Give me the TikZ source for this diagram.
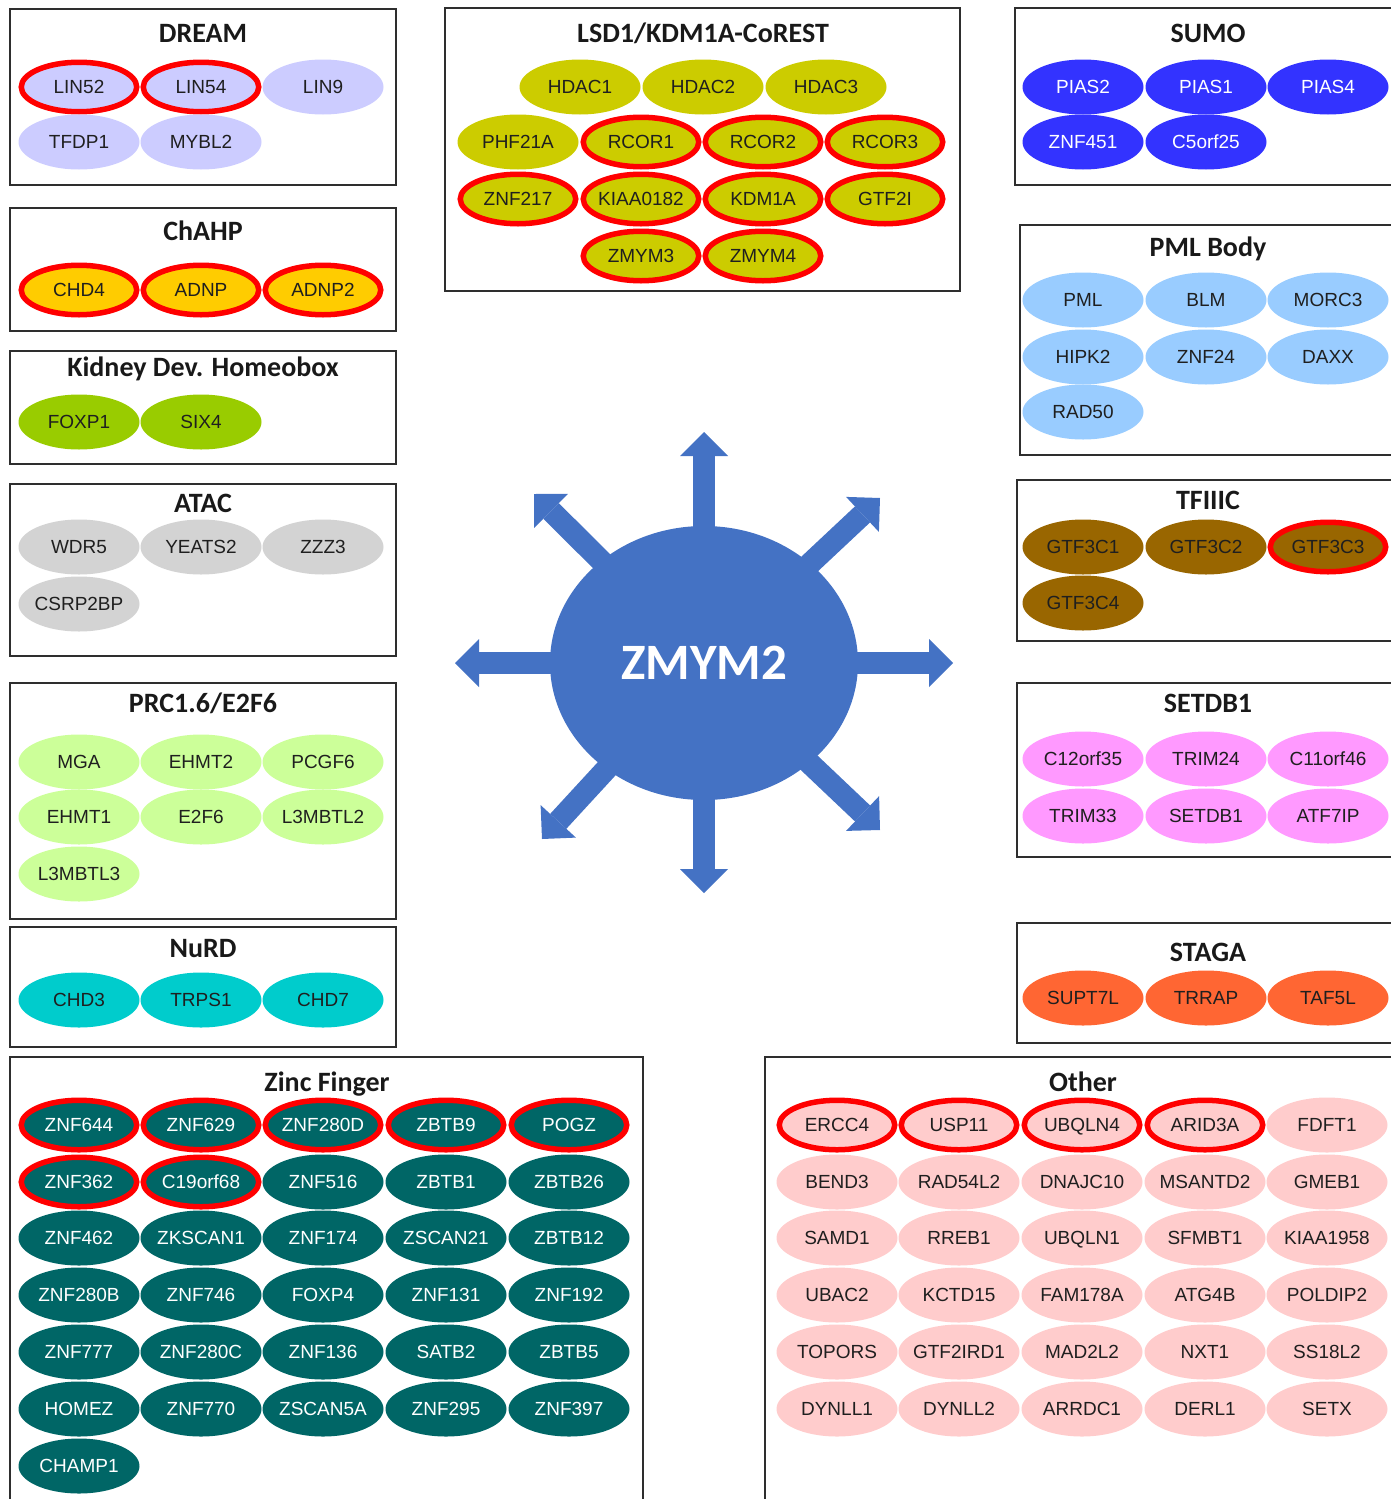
\documentclass[tikz,border=0pt]{standalone}
\usepackage{fontspec}
\setmainfont{Liberation Sans}
\newfontfamily\calib{Carlito}
\usetikzlibrary{shapes.geometric,arrows.meta}

\definecolor{hubc}{HTML}{4472C4}
\definecolor{hitred}{HTML}{FF0000}
\definecolor{dreamc}{HTML}{CCCCFF}
\definecolor{chahpc}{HTML}{FFCC00}
\definecolor{kidneyc}{HTML}{99CC00}
\definecolor{atacc}{HTML}{D3D3D3}
\definecolor{prcc}{HTML}{CCFF99}
\definecolor{nurdc}{HTML}{00CCCC}
\definecolor{zincc}{HTML}{006666}
\definecolor{lsdc}{HTML}{CCCC00}
\definecolor{sumoc}{HTML}{3333FF}
\definecolor{pmlc}{HTML}{99CCFF}
\definecolor{tfiiicc}{HTML}{996600}
\definecolor{setdbc}{HTML}{FF99FF}
\definecolor{stagac}{HTML}{FF6633}
\definecolor{otherc}{HTML}{FFCCCC}

\newcommand\genefont{\fontsize{19}{19}\selectfont}
\newcommand\grptitlefont{\calib\bfseries\fontsize{28}{28}\selectfont}
\newcommand\hubfont{\calib\bfseries\fontsize{51}{51}\selectfont}

% one protein: \G[extra]{style}{name}{x}{y}
\newcommand\G[5][]{\node[#2,#1] (#3) at (#4,#5) {\makebox[0pt]{#3}};}
% one complex frame: \grp{x1}{y1}{x2}{y2}
\newcommand\grp[4]{\draw[groupbox] (#1,#2) rectangle (#3,#4);}

\begin{document}
\begin{tikzpicture}[x=1pt,y=-1pt,
  gene/.style={ellipse, minimum width=121pt, minimum height=55pt, inner sep=0pt,
    text height=13.6pt, text depth=0pt, font=\genefont, text=black!88},
  hit/.style={draw=hitred, line width=5.5pt, minimum width=115.5pt, minimum height=49.5pt},
  dream/.style={gene, fill=dreamc},
  chahp/.style={gene, fill=chahpc},
  kidney/.style={gene, fill=kidneyc},
  atac/.style={gene, fill=atacc},
  prc/.style={gene, fill=prcc},
  nurd/.style={gene, fill=nurdc},
  zinc/.style={gene, fill=zincc, text=white},
  lsd/.style={gene, fill=lsdc},
  sumo/.style={gene, fill=sumoc, text=white},
  pml/.style={gene, fill=pmlc},
  tfiiic/.style={gene, fill=tfiiicc},
  setdb/.style={gene, fill=setdbc},
  staga/.style={gene, fill=stagac},
  other/.style={gene, fill=otherc},
  groupbox/.style={draw=black!82, line width=2.6pt},
  grptitle/.style={inner sep=0pt, text height=18pt, text depth=0pt, font=\grptitlefont, text=black!90},
  hub/.style={ellipse, fill=hubc, minimum width=308pt, minimum height=274pt, inner sep=0pt,
    text height=32.8pt, text depth=0pt, font=\hubfont, text=white},
  spoke/.style={draw=hubc, line width=22pt,
    -{Triangle[length=24pt,width=48pt,line width=0pt]}},
]
\useasboundingbox (0,0) rectangle (1391,1499);
\clip (0,0) rectangle (1391,1499);

% ---------------- central hub with eight spokes ----------------
\coordinate (hubcentre) at (704,663);
\coordinate (aN)  at (704,432);
\coordinate (aS)  at (704,893);
\coordinate (aW)  at (455,663);
\coordinate (aE)  at (953,663);
\coordinate (aNW) at (534,494);
\coordinate (aNE) at (880,498);
\coordinate (aSW) at (542,839);
\coordinate (aSE) at (880,830);
\foreach \t in {aN,aS,aW,aE,aNW,aNE,aSW,aSE}
  \draw[spoke] (hubcentre) -- (\t);
\node[hub] (zmym2) at (hubcentre) {\makebox[0pt]{ZMYM2}};

% ---------------- left column ----------------
\grp{10}{9}{396}{185}
\node[grptitle] (t-dream) at (203,33) {DREAM};
\G[hit]{dream}{LIN52}{79}{87}
\G[hit]{dream}{LIN54}{201}{87}
\G{dream}{LIN9}{323}{87}
\G{dream}{TFDP1}{79}{142}
\G{dream}{MYBL2}{201}{142}

\grp{10}{208}{396}{331}
\node[grptitle] (t-chahp) at (203,231) {ChAHP};
\G[hit]{chahp}{CHD4}{79}{290}
\G[hit]{chahp}{ADNP}{201}{290}
\G[hit]{chahp}{ADNP2}{323}{290}

\grp{10}{351}{396}{464}
\node[grptitle] (t-kidney) at (203,367) {Kidney Dev. Homeobox};
\G{kidney}{FOXP1}{79}{422}
\G{kidney}{SIX4}{201}{422}

\grp{10}{484}{396}{656}
\node[grptitle] (t-atac) at (203,503) {ATAC};
\G{atac}{WDR5}{79}{547}
\G{atac}{YEATS2}{201}{547}
\G{atac}{ZZZ3}{323}{547}
\G{atac}{CSRP2BP}{79}{604}

\grp{10}{683}{396}{919}
\node[grptitle] (t-prc) at (203,703) {PRC1.6/E2F6};
\G{prc}{MGA}{79}{762}
\G{prc}{EHMT2}{201}{762}
\G{prc}{PCGF6}{323}{762}
\G{prc}{EHMT1}{79}{817}
\G{prc}{E2F6}{201}{817}
\G{prc}{L3MBTL2}{323}{817}
\G{prc}{L3MBTL3}{79}{874}

\grp{10}{927}{396}{1047}
\node[grptitle] (t-nurd) at (203,948) {NuRD};
\G{nurd}{CHD3}{79}{1000}
\G{nurd}{TRPS1}{201}{1000}
\G{nurd}{CHD7}{323}{1000}

% ---------------- zinc finger proteins ----------------
\grp{10}{1057}{643}{1520}
\node[grptitle] (t-zinc) at (327,1082) {Zinc Finger};
\G[hit]{zinc}{ZNF644}{79}{1125}
\G[hit]{zinc}{ZNF629}{201}{1125}
\G[hit]{zinc}{ZNF280D}{323}{1125}
\G[hit]{zinc}{ZBTB9}{446}{1125}
\G[hit]{zinc}{POGZ}{569}{1125}
\G[hit]{zinc}{ZNF362}{79}{1182}
\G[hit]{zinc}{C19orf68}{201}{1182}
\G{zinc}{ZNF516}{323}{1182}
\G{zinc}{ZBTB1}{446}{1182}
\G{zinc}{ZBTB26}{569}{1182}
\G{zinc}{ZNF462}{79}{1238}
\G{zinc}{ZKSCAN1}{201}{1238}
\G{zinc}{ZNF174}{323}{1238}
\G{zinc}{ZSCAN21}{446}{1238}
\G{zinc}{ZBTB12}{569}{1238}
\G{zinc}{ZNF280B}{79}{1295}
\G{zinc}{ZNF746}{201}{1295}
\G{zinc}{FOXP4}{323}{1295}
\G{zinc}{ZNF131}{446}{1295}
\G{zinc}{ZNF192}{569}{1295}
\G{zinc}{ZNF777}{79}{1352}
\G{zinc}{ZNF280C}{201}{1352}
\G{zinc}{ZNF136}{323}{1352}
\G{zinc}{SATB2}{446}{1352}
\G{zinc}{ZBTB5}{569}{1352}
\G{zinc}{HOMEZ}{79}{1409}
\G{zinc}{ZNF770}{201}{1409}
\G{zinc}{ZSCAN5A}{323}{1409}
\G{zinc}{ZNF295}{446}{1409}
\G{zinc}{ZNF397}{569}{1409}
\G{zinc}{CHAMP1}{79}{1466}

% ---------------- LSD1 / CoREST ----------------
\grp{445}{8}{960}{291}
\node[grptitle] (t-lsd) at (703,33) {LSD1/KDM1A-CoREST};
\G{lsd}{HDAC1}{580}{87}
\G{lsd}{HDAC2}{703}{87}
\G{lsd}{HDAC3}{826}{87}
\G{lsd}{PHF21A}{518}{142}
\G[hit]{lsd}{RCOR1}{641}{142}
\G[hit]{lsd}{RCOR2}{763}{142}
\G[hit]{lsd}{RCOR3}{885}{142}
\G[hit]{lsd}{ZNF217}{518}{199}
\G[hit]{lsd}{KIAA0182}{641}{199}
\G[hit]{lsd}{KDM1A}{763}{199}
\G[hit]{lsd}{GTF2I}{885}{199}
\G[hit]{lsd}{ZMYM3}{641}{256}
\G[hit]{lsd}{ZMYM4}{763}{256}

% ---------------- right column ----------------
\grp{1015}{8}{1401}{185}
\node[grptitle] (t-sumo) at (1208,33) {SUMO};
\G{sumo}{PIAS2}{1083}{87}
\G{sumo}{PIAS1}{1206}{87}
\G{sumo}{PIAS4}{1328}{87}
\G{sumo}{ZNF451}{1083}{142}
\G{sumo}{C5orf25}{1206}{142}

\grp{1020}{225}{1401}{455}
\node[grptitle] (t-pml) at (1208,247) {PML Body};
\G{pml}{PML}{1083}{300}
\G{pml}{BLM}{1206}{300}
\G{pml}{MORC3}{1328}{300}
\G{pml}{HIPK2}{1083}{357}
\G{pml}{ZNF24}{1206}{357}
\G{pml}{DAXX}{1328}{357}
\G{pml}{RAD50}{1083}{412}

\grp{1017}{480}{1401}{641}
\node[grptitle] (t-tfiiic) at (1208,500) {TFIIIC};
\G{tfiiic}{GTF3C1}{1083}{547}
\G{tfiiic}{GTF3C2}{1206}{547}
\G[hit]{tfiiic}{GTF3C3}{1328}{547}
\G{tfiiic}{GTF3C4}{1083}{603}

\grp{1017}{683}{1401}{857}
\node[grptitle] (t-setdb) at (1208,703) {SETDB1};
\G{setdb}{C12orf35}{1083}{759}
\G{setdb}{TRIM24}{1206}{759}
\G{setdb}{C11orf46}{1328}{759}
\G{setdb}{TRIM33}{1083}{816}
\G{setdb}{SETDB1}{1206}{816}
\G{setdb}{ATF7IP}{1328}{816}

\grp{1017}{923}{1401}{1043}
\node[grptitle] (t-staga) at (1208,952) {STAGA};
\G{staga}{SUPT7L}{1083}{998}
\G{staga}{TRRAP}{1206}{998}
\G{staga}{TAF5L}{1328}{998}

% ---------------- other interactors ----------------
\grp{765}{1057}{1401}{1520}
\node[grptitle] (t-other) at (1083,1082) {Other};
\G[hit]{other}{ERCC4}{837}{1125}
\G[hit]{other}{USP11}{959}{1125}
\G[hit]{other}{UBQLN4}{1082}{1125}
\G[hit]{other}{ARID3A}{1205}{1125}
\G{other}{FDFT1}{1327}{1125}
\G{other}{BEND3}{837}{1182}
\G{other}{RAD54L2}{959}{1182}
\G{other}{DNAJC10}{1082}{1182}
\G{other}{MSANTD2}{1205}{1182}
\G{other}{GMEB1}{1327}{1182}
\G{other}{SAMD1}{837}{1238}
\G{other}{RREB1}{959}{1238}
\G{other}{UBQLN1}{1082}{1238}
\G{other}{SFMBT1}{1205}{1238}
\G{other}{KIAA1958}{1327}{1238}
\G{other}{UBAC2}{837}{1295}
\G{other}{KCTD15}{959}{1295}
\G{other}{FAM178A}{1082}{1295}
\G{other}{ATG4B}{1205}{1295}
\G{other}{POLDIP2}{1327}{1295}
\G{other}{TOPORS}{837}{1352}
\G{other}{GTF2IRD1}{959}{1352}
\G{other}{MAD2L2}{1082}{1352}
\G{other}{NXT1}{1205}{1352}
\G{other}{SS18L2}{1327}{1352}
\G{other}{DYNLL1}{837}{1409}
\G{other}{DYNLL2}{959}{1409}
\G{other}{ARRDC1}{1082}{1409}
\G{other}{DERL1}{1205}{1409}
\G{other}{SETX}{1327}{1409}
\end{tikzpicture}
\end{document}
